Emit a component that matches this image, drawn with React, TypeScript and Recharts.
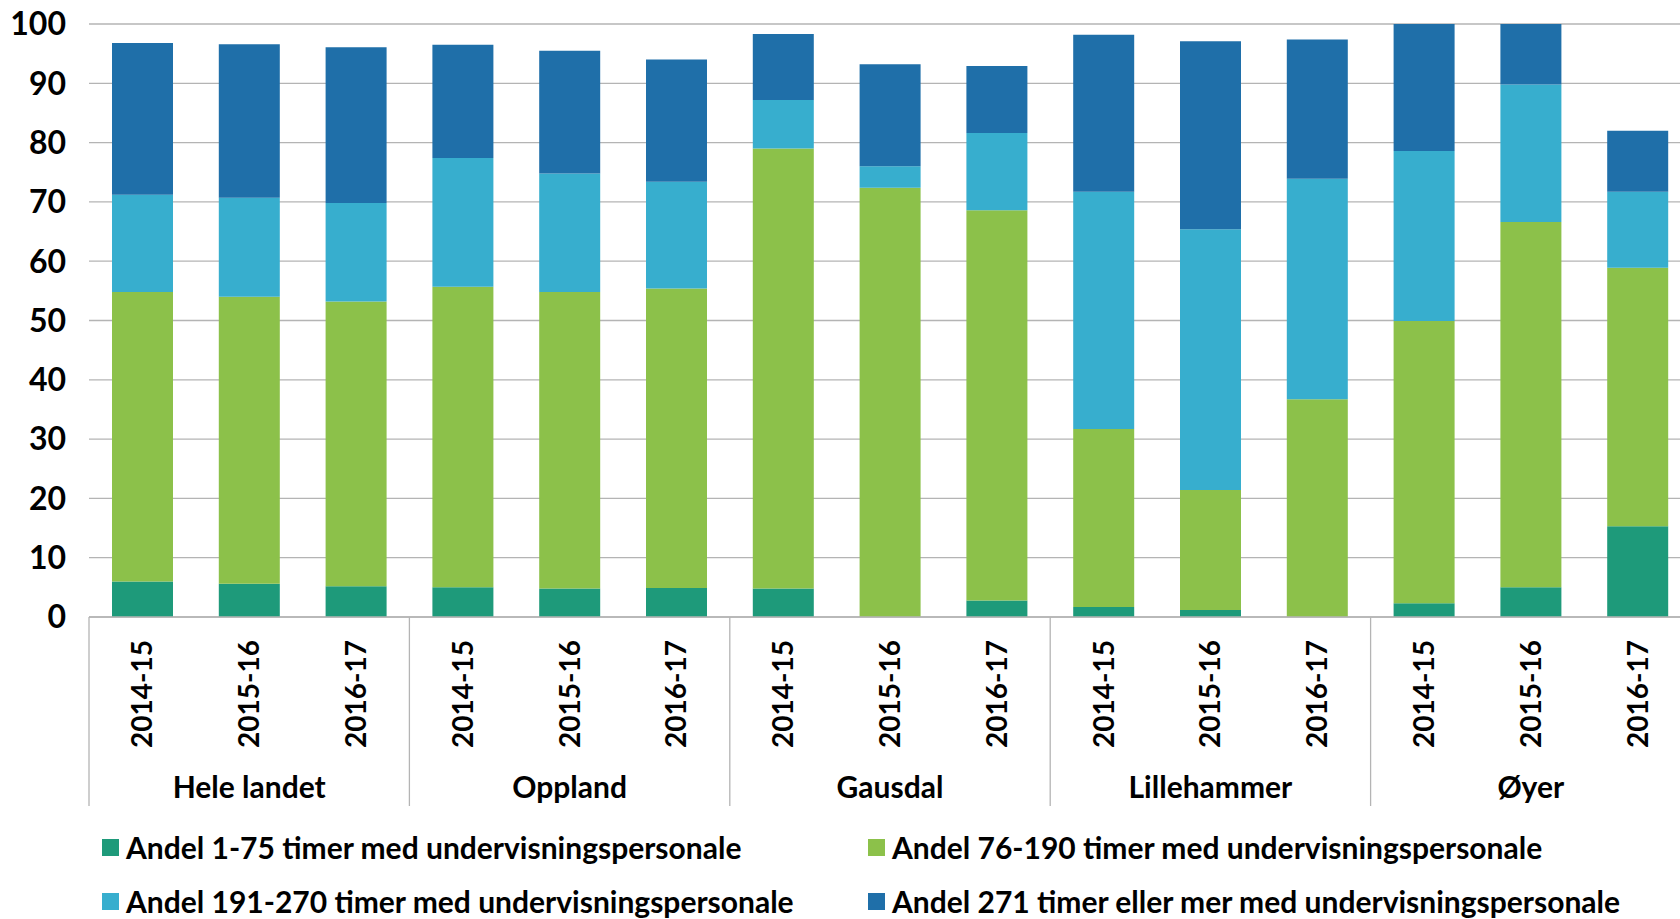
import { BarChart, Bar, XAxis, YAxis, CartesianGrid } from 'recharts';

// Kategorier
const groups = ['Hele landet', 'Oppland', 'Gausdal', 'Lillehammer', 'Øyer'];
const years = ['2014-15', '2015-16', '2016-17'];

// Andeler (prosent), én verdi per gruppe/år i rekkefølge
const andel1to75 = [6.0, 5.6, 5.2, 5.0, 4.8, 4.9, 4.8, 0, 2.8, 1.7, 1.2, 0, 2.3, 5.0, 15.3];
const andel76to190 = [48.8, 48.4, 48.0, 50.7, 50.0, 50.5, 74.2, 72.4, 65.8, 30.0, 20.2, 36.7, 47.6, 61.6, 43.6];
const andel191to270 = [16.4, 16.7, 16.6, 21.7, 20.0, 18.0, 8.2, 3.6, 13.0, 40.0, 44.0, 37.2, 28.7, 23.2, 12.8];
const andel271plus = [25.6, 25.9, 26.3, 19.1, 20.7, 20.6, 11.1, 17.2, 11.3, 26.5, 31.7, 23.5, 21.4, 10.2, 10.3];

const yTicks = [0, 10, 20, 30, 40, 50, 60, 70, 80, 90, 100];

const series = [
  { key: 's1', name: 'Andel 1-75 timer med undervisningspersonale', color: '#1E9A7A', values: andel1to75 },
  { key: 's2', name: 'Andel 76-190 timer med undervisningspersonale', color: '#8CC14A', values: andel76to190 },
  { key: 's3', name: 'Andel 191-270 timer med undervisningspersonale', color: '#37AECE', values: andel191to270 },
  { key: 's4', name: 'Andel 271 timer eller mer med undervisningspersonale', color: '#1F6FA9', values: andel271plus },
];

const data = groups.flatMap((group, gi) =>
  years.map((year, yi) => {
    const i = gi * years.length + yi;
    const row: Record<string, string | number> = { id: `${group}|${year}`, group, year };
    series.forEach((s) => {
      row[s.key] = s.values[i];
    });
    return row;
  })
);

// layout
const CHART_W = 1700;
const CHART_H = 919;
const Y_AXIS_W = 89;
const RIGHT = 9;
const PLOT_BOTTOM = 617;
const BAND = (CHART_W - Y_AXIS_W - RIGHT) / data.length;
const FONT = 'Lato, "Open Sans", sans-serif';
const GRID = '#b4b4b4';

function CategoryTick(props: any) {
  const { x, y, payload } = props;
  const index = props.index ?? payload.index;
  const row = data[index];
  const pos = index % years.length;
  const ty = y + 23;
  return (
    <g>
      <text
        x={x}
        y={ty}
        transform={`rotate(-90 ${x} ${ty})`}
        textAnchor="end"
        dy="0.36em"
        fontFamily={FONT}
        fontWeight={700}
        fontSize={28}
        fill="#000"
      >
        {row.year}
      </text>
      {pos === 0 && (
        <>
          <line x1={x - BAND / 2} x2={x - BAND / 2} y1={y} y2={y + 189} stroke={GRID} strokeWidth={1.3} />
          <text
            x={x + BAND}
            y={y + 181}
            textAnchor="middle"
            fontFamily={FONT}
            fontWeight={700}
            fontSize={30}
            fill="#000"
          >
            {row.group}
          </text>
        </>
      )}
    </g>
  );
}

function LegendItem({ name, color, left, top }: { name: string; color: string; left: number; top: number }) {
  return (
    <div style={{ position: 'absolute', left, top, display: 'flex', alignItems: 'center', height: 40 }}>
      <div style={{ width: 17, height: 17, background: color, marginRight: 7 }} />
      <span style={{ fontFamily: FONT, fontWeight: 700, fontSize: 30, color: '#000', whiteSpace: 'nowrap' }}>
        {name}
      </span>
    </div>
  );
}

export default function App() {
  return (
    <div
      style={{
        position: 'absolute',
        left: 0,
        top: 0,
        width: 1680,
        height: 919,
        overflow: 'hidden',
        background: '#fff',
      }}
    >
      <BarChart
        width={CHART_W}
        height={CHART_H}
        data={data}
        margin={{ top: 24, right: RIGHT, left: 0, bottom: CHART_H - PLOT_BOTTOM - 190 }}
      >
        <CartesianGrid vertical={false} stroke={GRID} strokeWidth={1.3} />
        <XAxis
          dataKey="id"
          interval={0}
          height={190}
          tickLine={false}
          tickSize={0}
          tickMargin={0}
          axisLine={{ stroke: GRID, strokeWidth: 1.3 }}
          tick={<CategoryTick />}
        />
        <YAxis
          width={Y_AXIS_W}
          domain={[0, 100]}
          ticks={yTicks}
          interval={0}
          tickLine={false}
          axisLine={false}
          tickSize={0}
          tickMargin={23}
          tick={{ fontFamily: FONT, fontWeight: 700, fontSize: 32, fill: '#000' }}
        />
        {series.map((s) => (
          <Bar
            key={s.key}
            dataKey={s.key}
            name={s.name}
            stackId="a"
            fill={s.color}
            barSize={61}
            isAnimationActive={false}
          />
        ))}
      </BarChart>
      <LegendItem name={series[0].name} color={series[0].color} left={102} top={827} />
      <LegendItem name={series[1].name} color={series[1].color} left={868} top={827} />
      <LegendItem name={series[2].name} color={series[2].color} left={102} top={881} />
      <LegendItem name={series[3].name} color={series[3].color} left={868} top={881} />
    </div>
  );
}
